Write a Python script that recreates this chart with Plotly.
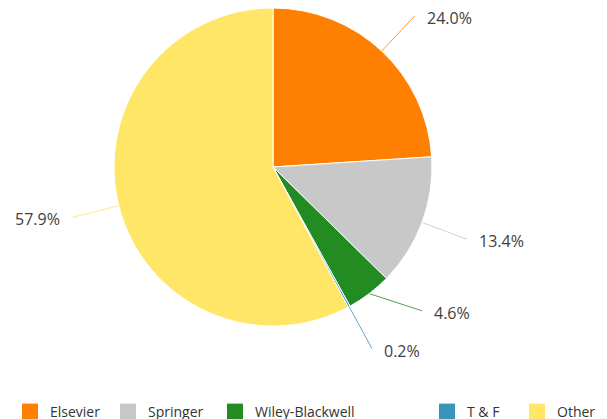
"""
Publisher share pie chart with outside percentage labels.
"""

import math

import plotly.graph_objects as go

# Data
publishers = ["Elsevier", "Springer", "Wiley-Blackwell", "T & F", "Other"]
shares = [24.0, 13.4, 4.6, 0.2, 57.9]
colors = ["#FF8000", "#C8C8C8", "#228B22", "#3A93BA", "#FFE666"]

W, H = 607, 419
PAGE_PAD = 8  # browser body margin shifts the plot right/down
CX, CY = 273 - PAGE_PAD, 167 - PAGE_PAD  # pie centre in pixels
R = min(161, CY)  # pie radius, must stay inside the figure
LABEL_R = 207  # where connectors end
LABEL_GAP = 38  # minimum vertical spacing of labels on one side

# left edge (px) of each legend entry, the reference spaces them unevenly
LEGEND_X = [2, 100, 207, 419, 509]

fig = go.Figure()

fig.add_trace(
    go.Pie(
        labels=publishers,
        values=shares,
        sort=False,
        direction="clockwise",
        rotation=0,
        textinfo="none",
        hoverinfo="label+percent",
        showlegend=False,
        marker=dict(colors=colors, line=dict(color="white", width=1)),
        domain=dict(x=[(CX - R) / W, (CX + R) / W], y=[(H - CY - R) / H, (H - CY + R) / H]),
    )
)

# Label placement: mid-angle of each slice, then spread labels that collide
total = sum(shares)
labels = []
cum = 0.0
for name, val, col in zip(publishers, shares, colors):
    mid = (cum + val / 2) / total * 2 * math.pi
    cum += val
    sx, sy = CX + R * math.sin(mid), CY - R * math.cos(mid)
    ex, ey = CX + LABEL_R * math.sin(mid), CY - LABEL_R * math.cos(mid)
    labels.append(dict(val=val, col=col, sx=sx, sy=sy, ex=ex, ey=ey, right=math.sin(mid) >= 0))

for right in (True, False):
    side = sorted([l for l in labels if l["right"] == right], key=lambda l: -l["ey"])
    for prev, cur in zip(side, side[1:]):
        if prev["ey"] - cur["ey"] < LABEL_GAP:
            cur["ey"] = prev["ey"] - LABEL_GAP
            dy = cur["ey"] - CY
            dx = math.sqrt(max(LABEL_R**2 - dy**2, 0))
            cur["ex"] = CX + dx if right else CX - dx

for l in labels:
    fig.add_trace(
        go.Scatter(
            x=[l["sx"], l["ex"]],
            y=[l["sy"], l["ey"]],
            mode="lines",
            line=dict(color=l["col"], width=1),
            opacity=0.8,
            hoverinfo="skip",
            showlegend=False,
        )
    )
    fig.add_annotation(
        x=l["ex"],
        y=l["ey"] + 2,
        xref="x",
        yref="y",
        text=f"{l['val']:.1f}%",
        showarrow=False,
        xanchor="left" if l["right"] else "right",
        yanchor="middle",
        xshift=10 if l["right"] else -10,
        font=dict(size=16, color="#404040", family="Open Sans"),
    )

# Legend entries: one small legend per publisher so each can be placed
legend_layout = {}
for i, (name, col) in enumerate(zip(publishers, colors)):
    key = "legend" if i == 0 else f"legend{i + 1}"
    fig.add_trace(
        go.Scatter(
            x=[None],
            y=[None],
            mode="markers",
            name=name,
            legend=key,
            marker=dict(symbol="square", size=16, color=col),
            hoverinfo="skip",
        )
    )
    legend_layout[key] = dict(
        orientation="h",
        x=LEGEND_X[i] / W,
        xanchor="left",
        y=(H - 412 + PAGE_PAD) / H,
        yanchor="middle",
        font=dict(size=14, color="#333333", family="Open Sans"),
        bgcolor="rgba(0,0,0,0)",
        itemclick=False,
        itemdoubleclick=False,
    )

fig.update_layout(
    width=W,
    height=H,
    margin=dict(l=0, r=0, t=0, b=0, autoexpand=False),
    paper_bgcolor="white",
    plot_bgcolor="white",
    font=dict(family="Open Sans", color="#333333"),
    xaxis=dict(visible=False, range=[0, W], domain=[0, 1], fixedrange=True),
    yaxis=dict(visible=False, range=[H, 0], domain=[0, 1], fixedrange=True),
    showlegend=True,
    **legend_layout,
)

fig.write_html("out.html")
